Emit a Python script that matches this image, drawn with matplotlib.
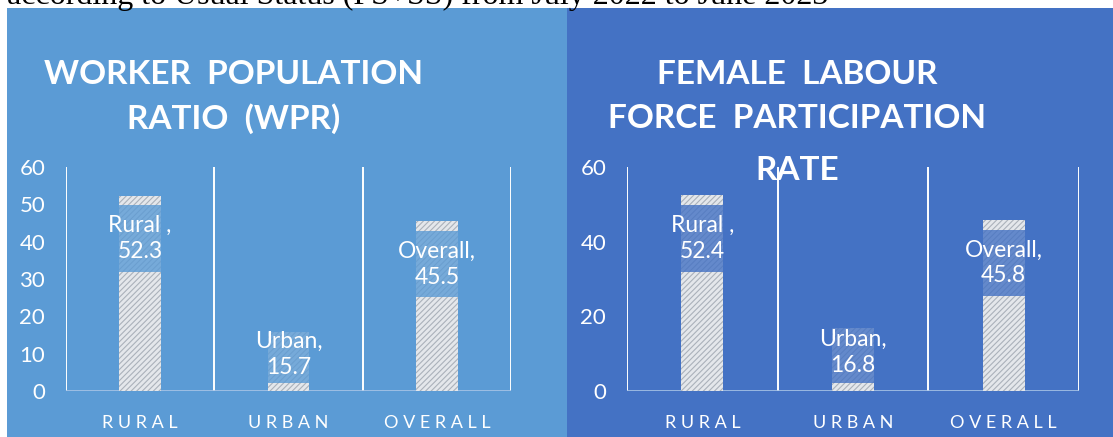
import numpy as np
import matplotlib.pyplot as plt
from matplotlib.patches import Rectangle

# data
categories = ['RURAL', 'URBAN', 'OVERALL']
label_names = ['Rural ,', 'Urban,', 'Overall,']
wpr = [52.3, 15.7, 45.5]
flfpr = [52.4, 16.8, 45.8]

plt.rcParams['font.family'] = ['Lato', 'DejaVu Sans']
plt.rcParams['hatch.linewidth'] = 0.8

W, H = 1113, 437
fig = plt.figure(figsize=(W / 100, H / 100), dpi=100)
fig.patch.set_facecolor('white')

left_col = '#5B9BD5'
right_col = '#4472C4'

# coloured panels behind the two charts
fig.patches.append(Rectangle((7 / W, 0), 560 / W, 429 / H, transform=fig.transFigure,
                             facecolor=left_col, edgecolor='none', zorder=-2))
fig.patches.append(Rectangle((567 / W, 0), 546 / W, 429 / H, transform=fig.transFigure,
                             facecolor=right_col, edgecolor='none', zorder=-2))

# caption line cut off at the top
fig.text(7 / W, 1 - 4 / H, 'according to Usual Status (PS+SS) from July 2022 to June 2023',
         family='Liberation Serif', fontsize=23, color='black', va='baseline', ha='left')


def draw_panel(ax, values, panel_col, yticks):
    ax.set_facecolor('none')
    x = np.arange(len(categories))
    ax.bar(x, values, width=0.28, color='#E4E7EB', edgecolor='#AAB1BA',
           hatch='//////', linewidth=0, zorder=2)
    for xi, v, name in zip(x, values, label_names):
        cy = max(v - 11.5, v / 2 + 2)
        top = min(cy + 8.9, v)
        bot = max(cy - 8.9, 2.1)
        ax.bar(xi, top - bot, bottom=bot, width=0.28, color=panel_col,
               alpha=0.8, linewidth=0, zorder=3)
        ax.text(xi, cy, '%s\n%.1f' % (name, v), ha='center', va='center',
                color='white', fontsize=16.5, linespacing=1.3, zorder=4)
    ax.set_xlim(-0.5, 2.5)
    ax.set_ylim(0, 60)
    for b in [-0.5, 0.5, 1.5, 2.5]:
        ax.axvline(b, color='white', lw=1.4, zorder=1)
    for s in ax.spines.values():
        s.set_visible(False)
    ax.axhline(0, color='#A8C4E6', lw=1.2, zorder=1)
    ax.set_yticks(yticks)
    ax.set_xticks(x)
    ax.set_xticklabels([' '.join(c) for c in categories])
    ax.tick_params(axis='y', length=0, pad=15, labelsize=16, labelcolor='white')
    ax.tick_params(axis='x', length=0, pad=17, labelsize=13, labelcolor='white')


ax1 = fig.add_axes([66 / W, 46 / H, 445 / W, 224 / H])
draw_panel(ax1, wpr, left_col, [0, 10, 20, 30, 40, 50, 60])
ax2 = fig.add_axes([627 / W, 46 / H, 452 / W, 224 / H])
draw_panel(ax2, flfpr, right_col, [0, 20, 40, 60])

# chart titles
for txt, yy in [('WORKER  POPULATION', 75), ('RATIO  (WPR)', 119)]:
    fig.text(234 / W, 1 - yy / H, txt, ha='center', va='center', color='white',
             fontsize=24, fontweight='bold')
for txt, yy in [('FEMALE  LABOUR', 74), ('FORCE  PARTICIPATION', 119), ('RATE', 170)]:
    fig.text(797 / W, 1 - yy / H, txt, ha='center', va='center', color='white',
             fontsize=24, fontweight='bold', zorder=5)

fig.savefig('out.png', dpi=100)
